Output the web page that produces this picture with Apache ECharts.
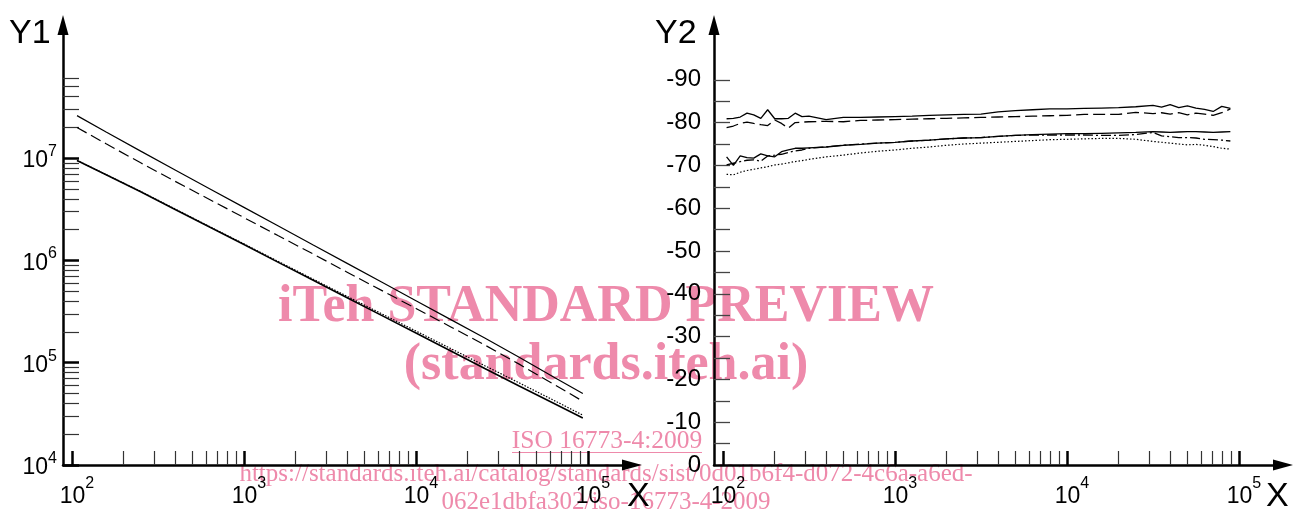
<!DOCTYPE html>
<html>
<head>
<meta charset="utf-8">
<script src="https://cdn.jsdelivr.net/npm/echarts@6/dist/echarts.min.js"></script>
<style>
html,body{margin:0;padding:0;background:#fff;}
#c{width:1304px;height:516px;}
</style>
</head>
<body>
<div id="c"></div>
<script>
// ---------- DATA ----------
// Left chart (Y1, log-log)
const xLeft = [107, 158, 251, 398, 631, 1000, 1585, 2512, 3981, 6310, 10000, 15849, 25119, 39811, 63096, 93325];
const y1Solid    = [2.60e7, 1.80e7, 1.17e7, 7.66e6, 5.02e6, 3.30e6, 2.17e6, 1.42e6, 9.35e5, 6.14e5, 4.04e5, 2.65e5, 1.74e5, 1.13e5, 7.26e4, 4.99e4];
const y1Dashed   = [1.99e7, 1.38e7, 8.99e6, 5.93e6, 3.94e6, 2.62e6, 1.74e6, 1.16e6, 7.67e5, 5.09e5, 3.39e5, 2.25e5, 1.49e5, 9.68e4, 6.17e4, 4.20e4];
const y1SolidLow = [9.46e6, 6.86e6, 4.69e6, 3.15e6, 2.12e6, 1.43e6, 9.57e5, 6.43e5, 4.32e5, 2.90e5, 1.95e5, 1.31e5, 8.77e4, 5.93e4, 4.02e4, 2.88e4];
const y1Dotted   = [9.50e6, 6.90e6, 4.72e6, 3.18e6, 2.14e6, 1.45e6, 9.75e5, 6.58e5, 4.45e5, 3.01e5, 2.04e5, 1.38e5, 9.35e4, 6.35e4, 4.30e4, 3.07e4];

// Right chart (Y2, lin-log)
const xRight = [105, 115, 126, 138, 151, 166, 182, 200, 219, 240, 263, 288, 316,
  398, 501, 631, 794, 1000, 1259, 1585, 1995, 2512, 3162, 3981, 5012, 6310, 7943, 10000, 12589, 15849, 19953, 25119, 31623,
  35481, 39811, 44668, 50119, 56234, 63096, 70795, 79433, 89125];
const y2SolidTop = [-80.9,-81.0,-81.3,-82.2,-81.8,-81.0,-83.0,-80.9,-80.9,-81.0,-82.2,-81.4,-81.5,
  -80.7,-81.2,-81.2,-81.3,-81.4,-81.5,-81.7,-81.8,-81.9,-82.0,-82.5,-82.8,-83.0,-83.2,-83.2,-83.3,-83.4,-83.5,-83.7,-84.0,
  -83.6,-84.2,-83.5,-83.9,-83.4,-83.1,-82.6,-83.8,-83.3];
const y2Dashed = [-78.8,-79.2,-79.8,-80.1,-79.8,-79.5,-79.3,-80.6,-79.8,-78.7,-80.0,-80.1,-80.2,
  -80.3,-80.2,-80.5,-80.6,-80.7,-80.8,-80.9,-81.0,-81.1,-81.2,-81.3,-81.4,-81.5,-81.6,-81.7,-81.9,-81.9,-81.9,-82.4,-82.1,
  -82.3,-82.0,-82.3,-81.8,-82.2,-82.0,-81.7,-82.3,-83.2];
const y2SolidLow = [-72.0,-70.0,-72.2,-71.8,-71.7,-72.7,-72.2,-72.0,-73.2,-73.6,-74.0,-74.0,-74.1,
  -74.3,-74.7,-74.9,-75.2,-75.4,-75.7,-75.9,-76.2,-76.4,-76.5,-76.8,-77.0,-77.2,-77.3,-77.4,-77.4,-77.5,-77.6,-77.7,-77.9,
  -77.8,-77.7,-77.8,-77.9,-77.9,-77.8,-77.7,-77.8,-77.9];
const y2DashDot = [-70.1,-70.5,-70.9,-71.2,-71.3,-71.0,-72.2,-72.4,-72.6,-73.0,-73.4,-73.6,-74.0,
  -74.3,-74.7,-75.0,-75.2,-75.4,-75.7,-75.9,-76.2,-76.4,-76.5,-76.8,-77.0,-77.1,-77.1,-77.1,-77.1,-77.0,-77.0,-77.2,-77.7,
  -76.9,-76.7,-76.5,-76.5,-76.4,-76.1,-76.0,-75.9,-75.7];
const y2Dotted = [-67.9,-67.8,-68.4,-68.8,-69.1,-69.4,-69.7,-70.1,-70.3,-70.6,-70.9,-71.1,-71.4,
  -72.0,-72.4,-72.9,-73.3,-73.6,-74.0,-74.3,-74.7,-75.0,-75.2,-75.4,-75.6,-75.8,-76.0,-76.1,-76.2,-76.3,-76.3,-76.1,-75.6,
  -75.4,-75.2,-75.0,-74.8,-74.9,-74.7,-74.4,-74.0,-73.8];

// Tick labels
const xDecades = [2, 3, 4, 5];          // 10^2 .. 10^5
const y1Decades = [4, 5, 6, 7];         // 10^4 .. 10^7
const y1TopMinor = [2, 3, 4, 5, 6];     // minor ticks above 10^7
const y2Labels = [0, -10, -20, -30, -40, -50, -60, -70, -80, -90];
const y2Ticks = [-5, -10, -15, -20, -25, -30, -35, -40, -45, -50, -55, -60, -65, -70, -75, -80, -85, -90];

// ---------- BUILD ----------
const L = Math.log10;
const xMinor = [];
xDecades.slice(0, 3).forEach(d => { for (let k = 2; k <= 9; k++) xMinor.push(d + L(k)); });
const y1Minor = [];
[4, 5, 6].forEach(d => { for (let k = 2; k <= 9; k++) y1Minor.push(d + L(k)); });
y1TopMinor.forEach(k => y1Minor.push(7 + L(k)));

const FONT = "'Liberation Sans', Arial, sans-serif";
const BLACK = '#000';
const supRich = {
  t: { width: 10, lineHeight: 32, fontSize: 12 },
  b: { fontSize: 23, lineHeight: 23, verticalAlign: 'bottom', fontFamily: FONT, color: BLACK },
  s: { fontSize: 16, lineHeight: 16, verticalAlign: 'top', fontFamily: FONT, color: BLACK }
};
const supRichY = Object.assign({}, supRich, { t: { width: 1, lineHeight: 29, fontSize: 12 } });
const powLabel = v => '{t| }{b|10}{s|' + Math.round(v) + '}';

const XMIN = 1.948, XMAX = 5.256;
const Y1MIN = 4, Y1MAX = 8.301;
const Y2MIN = -102.8, Y2MAX = 0;

const arrow = { symbol: ['none', 'triangle'], symbolSize: [11, 20] };

function xAxesFor(gridIndex) {
  return [
    { // minor ticks
      type: 'value', gridIndex, position: 'bottom', min: XMIN, max: XMAX,
      axisLine: { show: false, onZero: false },
      axisTick: { show: true, inside: true, length: 14, customValues: xMinor, lineStyle: { color: '#333', width: 1.2 } },
      axisLabel: { show: false }, splitLine: { show: false }
    },
    { // major ticks, labels, axis line
      type: 'value', gridIndex, position: 'bottom', min: XMIN, max: XMAX,
      axisLine: Object.assign({ show: true, onZero: false, lineStyle: { color: BLACK, width: 2.5 } }, arrow),
      axisTick: { show: true, inside: true, length: 14, customValues: xDecades, lineStyle: { color: BLACK, width: 2.5 } },
      axisLabel: { show: true, margin: 11, customValues: xDecades, formatter: powLabel, rich: supRich },
      splitLine: { show: false }
    }
  ];
}

const option = {
  animation: false,
  backgroundColor: '#fff',
  grid: [
    { left: 63, top: 25, width: 569, height: 440 },
    { left: 714, top: 25, width: 569, height: 440 }
  ],
  xAxis: [].concat(xAxesFor(0), xAxesFor(1)),
  yAxis: [
    { // left minor
      type: 'value', gridIndex: 0, position: 'left', min: Y1MIN, max: Y1MAX,
      axisLine: { show: false, onZero: false },
      axisTick: { show: true, inside: true, length: 16, customValues: y1Minor, lineStyle: { color: '#333', width: 1.2 } },
      axisLabel: { show: false }, splitLine: { show: false }
    },
    { // left major
      type: 'value', gridIndex: 0, position: 'left', min: Y1MIN, max: Y1MAX,
      axisLine: Object.assign({ show: true, onZero: false, lineStyle: { color: BLACK, width: 2.5 } }, arrow),
      axisTick: { show: true, inside: true, length: 16, customValues: y1Decades, lineStyle: { color: BLACK, width: 2.5 } },
      axisLabel: { show: true, margin: 6, customValues: y1Decades, formatter: powLabel, rich: supRichY },
      splitLine: { show: false }
    },
    { // right
      type: 'value', gridIndex: 1, position: 'left', min: Y2MIN, max: Y2MAX, inverse: true,
      axisLine: Object.assign({ show: true, onZero: false, lineStyle: { color: BLACK, width: 2.5 } }, arrow),
      axisTick: { show: true, inside: true, length: 16, customValues: y2Ticks, lineStyle: { color: '#444', width: 1.3 } },
      axisLabel: { show: true, margin: 13, customValues: y2Labels, fontSize: 24, fontFamily: FONT, color: BLACK },
      splitLine: { show: false }
    }
  ],
  series: []
};

function addSeries(xs, ys, xi, yi, type, width, logY) {
  option.series.push({
    type: 'line', xAxisIndex: xi, yAxisIndex: yi, showSymbol: false, symbol: 'none', silent: true,
    data: xs.map((x, i) => [L(x), logY ? L(ys[i]) : ys[i]]),
    lineStyle: { color: BLACK, width, type }
  });
}
addSeries(xLeft, y1Solid, 1, 1, 'solid', 1.2, true);
addSeries(xLeft, y1Dashed, 1, 1, [11, 5], 1.2, true);
addSeries(xLeft, y1Dotted, 1, 1, [1.5, 1.5], 1.2, true);
addSeries(xLeft, y1SolidLow, 1, 1, 'solid', 1.6, true);

addSeries(xRight, y2SolidTop, 3, 2, 'solid', 1.3, false);
addSeries(xRight, y2Dashed, 3, 2, [12, 5], 1.3, false);
addSeries(xRight, y2SolidLow, 3, 2, 'solid', 1.3, false);
addSeries(xRight, y2DashDot, 3, 2, [10, 3, 2, 3], 1.3, false);
addSeries(xRight, y2Dotted, 3, 2, [1.5, 2], 1.2, false);

const PINK = '#ee8aab';
const SERIF = "'Liberation Serif', 'Times New Roman', serif";
const nameFont = '34px ' + FONT;
option.graphic = [
  { type: 'text', x: 9, y: 51, style: { text: 'Y1', font: nameFont, fill: BLACK, textVerticalAlign: 'bottom' } },
  { type: 'text', x: 655, y: 51, style: { text: 'Y2', font: nameFont, fill: BLACK, textVerticalAlign: 'bottom' } },
  { type: 'text', x: 627, y: 514, style: { text: 'X', font: nameFont, fill: BLACK, textVerticalAlign: 'bottom' } },
  { type: 'text', x: 1266, y: 514, style: { text: 'X', font: nameFont, fill: BLACK, textVerticalAlign: 'bottom' } },
  // watermark
  { type: 'text', z: -10, x: 606, y: 308, style: { text: 'iTeh STANDARD PREVIEW', font: 'bold 52px ' + SERIF, fill: PINK, textAlign: 'center', textVerticalAlign: 'middle' } },
  { type: 'text', z: -10, x: 606, y: 366, style: { text: '(standards.iteh.ai)', font: 'bold 52px ' + SERIF, fill: PINK, textAlign: 'center', textVerticalAlign: 'middle' } },
  { type: 'text', z: -10, x: 607, y: 441, style: { text: 'ISO 16773-4:2009', font: '25.5px ' + SERIF, fill: PINK, textAlign: 'center', textVerticalAlign: 'middle' } },
  { type: 'line', z: -10, shape: { x1: 512, y1: 452.5, x2: 702, y2: 452.5 }, style: { stroke: PINK, lineWidth: 1.2 } },
  { type: 'text', z: -10, x: 606, y: 474, style: { text: 'https://standards.iteh.ai/catalog/standards/sist/0d01b6f4-d072-4c6a-a6ed-', font: '25px ' + SERIF, fill: PINK, textAlign: 'center', textVerticalAlign: 'middle' } },
  { type: 'text', z: -10, x: 606, y: 502, style: { text: '062e1dbfa302/iso-16773-4-2009', font: '25px ' + SERIF, fill: PINK, textAlign: 'center', textVerticalAlign: 'middle' } }
];

const chart = echarts.init(document.getElementById('c'), null, { renderer: 'canvas' });
chart.setOption(option);
</script>
</body>
</html>
